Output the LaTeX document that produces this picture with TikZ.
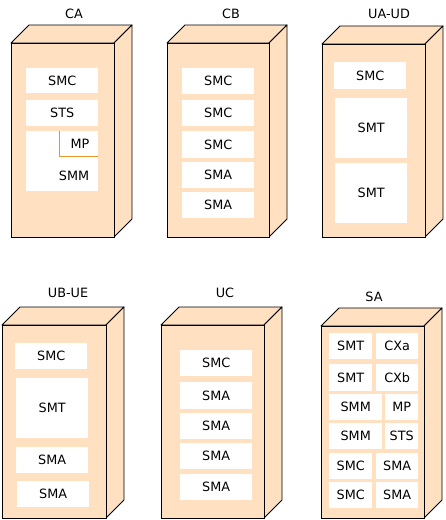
\documentclass[tikz,border=0pt]{standalone}
\usepackage{fontspec}
\setmainfont{DejaVu Sans}
\definecolor{peach}{RGB}{255,224,192}
\definecolor{mporange}{RGB}{230,150,40}
\tikzset{
  front/.style={draw=black, fill=peach, line width=0.9pt, inner sep=0pt, anchor=north west},
  side/.style={draw=black, fill=peach, line width=0.9pt, line join=round},
  part/.style={fill=white, draw=none, inner sep=0pt, anchor=north west},
  lbl/.style={font=\fontsize{12.8}{15}\selectfont, inner sep=0pt},
}
% #1 name, #2 x1, #3 y1, #4 x2, #5 y2, #6 label, #7 label x, #8 label y
\newcommand{\mycube}[8]{%
  \draw[side] (#4,#3) -- ++(18,-18) -- ++(-#4+#2,0) -- (#2,#3) -- cycle;
  \draw[side] (#4,#3) -- ++(18,-18) -- ++(0,#5-#3) -- (#4,#5) -- cycle;
  \node[front, minimum width=#4pt-#2pt, minimum height=#5pt-#3pt] (#1) at (#2,#3) {};
  \node[lbl] (#1lbl) at (#7,#8) {#6};
}
% #1 name, #2 x1, #3 y1, #4 x2, #5 y2, #6 text
\newcommand{\mypart}[6]{%
  \node[part, minimum width=#4pt-#2pt, minimum height=#5pt-#3pt] (#1) at (#2,#3) {};
  \node[lbl] (#1t) at ($(#1.center)$) {#6};
}
\usetikzlibrary{calc}
\begin{document}
\begin{tikzpicture}[x=1pt,y=-1pt]
\useasboundingbox (0,0) rectangle (445,520);
% CA
\mycube{ca}{11}{43}{114}{237}{CA}{74}{14}
\mypart{ca1}{26}{68}{98}{93}{SMC}
\mypart{ca2}{26}{100}{98}{126}{STS}
\node[part, minimum width=72pt, minimum height=60pt] (ca3) at (26,131) {};
\coordinate (mpa) at (59,131);
\coordinate (mpb) at (59,156);
\coordinate (mpc) at (98,156);
\draw[mporange, line width=0.9pt] (mpa) -- (mpb) -- (mpc);
\node[lbl] (ca3mp) at (80,144) {MP};
\node[lbl] (ca3smm) at (74,176) {SMM};
% CB
\mycube{cb}{167}{43}{269}{237}{CB}{231}{14}
\mypart{cb1}{182}{68}{254}{94}{SMC}
\mypart{cb2}{182}{100}{254}{126}{SMC}
\mypart{cb3}{182}{131}{254}{158}{SMC}
\mypart{cb4}{182}{162}{254}{188}{SMA}
\mypart{cb5}{182}{192}{254}{218}{SMA}
% UA-UD
\mycube{ua}{322}{44}{425}{237}{UA-UD}{389}{14}
\mypart{ua1}{334}{62}{406}{89}{SMC}
\mypart{ua2}{335}{98}{407}{158}{SMT}
\mypart{ua3}{335}{163}{407}{223}{SMT}
% UB-UE
\mycube{ub}{2}{325}{106}{518}{UB-UE}{68}{293}
\mypart{ub1}{15}{343}{87}{369}{SMC}
\mypart{ub2}{16}{378}{88}{438}{SMT}
\mypart{ub3}{16}{447}{88}{473}{SMA}
\mypart{ub4}{17}{481}{89}{507}{SMA}
% UC
\mycube{uc}{161}{325}{264}{518}{UC}{225}{293}
\mypart{uc1}{180}{350}{252}{376}{SMC}
\mypart{uc2}{180}{382}{252}{409}{SMA}
\mypart{uc3}{180}{413}{252}{439}{SMA}
\mypart{uc4}{180}{443}{252}{469}{SMA}
\mypart{uc5}{180}{474}{252}{500}{SMA}
% SA
\mycube{sa}{321}{326}{424}{518}{SA}{374}{297}
\mypart{sa1}{329}{333}{372}{359}{SMT}
\mypart{sa2}{376}{333}{418}{359}{CXa}
\mypart{sa3}{329}{364}{372}{391}{SMT}
\mypart{sa4}{376}{364}{418}{391}{CXb}
\mypart{sa5}{329}{394}{382}{420}{SMM}
\mypart{sa6}{385}{394}{418}{420}{MP}
\mypart{sa7}{329}{423}{382}{449}{SMM}
\mypart{sa8}{385}{423}{418}{449}{STS}
\mypart{sa9}{329}{453}{372}{479}{SMC}
\mypart{sa10}{376}{453}{418}{479}{SMA}
\mypart{sa11}{329}{482}{372}{508}{SMC}
\mypart{sa12}{376}{482}{418}{508}{SMA}
\end{tikzpicture}
\end{document}
